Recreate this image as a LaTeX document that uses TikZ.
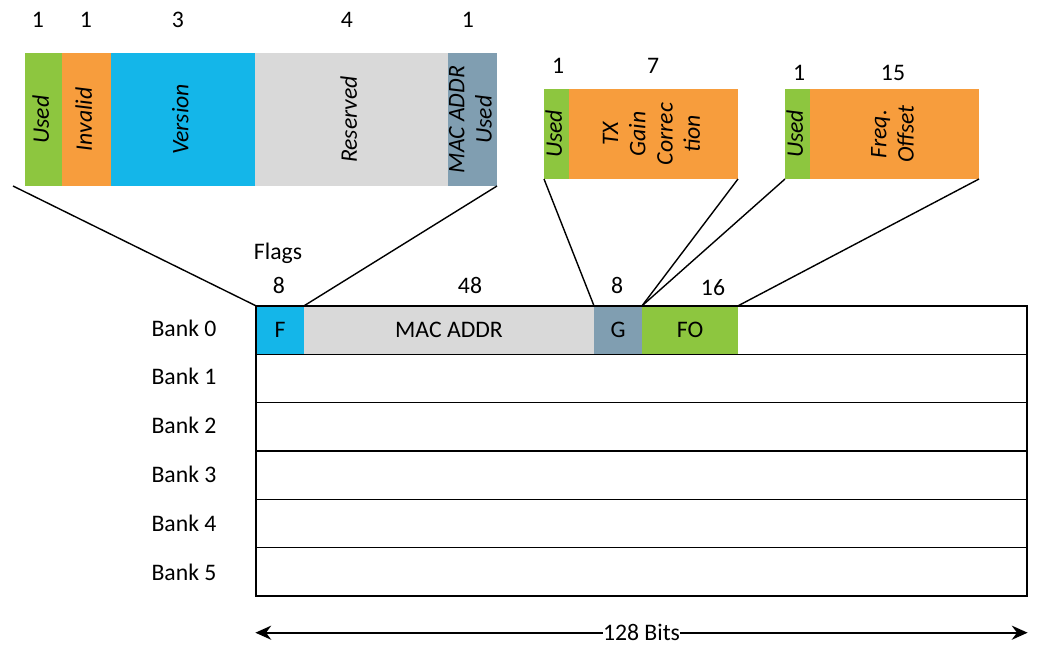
\documentclass[tikz,border=0pt]{standalone}
\usepackage{fontspec}
\setmainfont{Carlito}
\usetikzlibrary{arrows.meta, positioning, calc}
\definecolor{fldgreen}{RGB}{141,198,63}
\definecolor{fldorange}{RGB}{247,157,61}
\definecolor{fldblue}{RGB}{20,182,233}
\definecolor{fldgray}{RGB}{217,217,217}
\definecolor{fldslate}{RGB}{128,158,177}
\newcommand{\vtext}[1]{\makebox[0pt]{\rotatebox{90}{\begin{tabular}{@{}c@{}}#1\end{tabular}}}}
\tikzset{
  % Register field (parameterized by color)
  regfield/.style={
    rectangle, fill=#1, inner sep=0pt, outer sep=0pt,
    font=\fontsize{13.5}{15.5}\selectfont\itshape
  },
  flagfield/.style={regfield=#1, minimum height=2.66cm},
  subfield/.style={regfield=#1, minimum height=1.8cm},
  bankfield/.style={regfield=#1, minimum height=0.9667cm, font=\fontsize{13.5}{16}\selectfont},
  bankrow/.style={
    rectangle, draw=black, line width=0.8pt, inner sep=0pt,
    minimum width=15.42cm, minimum height=0.9667cm
  },
  bitnum/.style={font=\fontsize{13.5}{16}\selectfont, inner sep=1pt},
  banklabel/.style={font=\fontsize{13.5}{16}\selectfont},
  zoomline/.style={line width=0.8pt, black},
  bitsarrow/.style={{Stealth[length=9pt,width=8pt]}-{Stealth[length=9pt,width=8pt]}, line width=1.2pt}
}
\begin{document}
\begin{tikzpicture}[x=0.02cm, y=-0.02cm]
  \useasboundingbox (0,0) rectangle (1043,657);

  % Flags byte
  \node[flagfield=fldgreen,  minimum width=0.74cm] (fused) at (43.5,119.5)  {\vtext{Used}};
  \node[flagfield=fldorange, minimum width=0.98cm] (finv)  at (86.5,119.5)  {\vtext{Invalid}};
  \node[flagfield=fldblue,   minimum width=2.88cm] (fver)  at (183,119.5)   {\vtext{Version}};
  \node[flagfield=fldgray,   minimum width=3.86cm] (fres)  at (351.5,119.5) {\vtext{Reserved}};
  \node[flagfield=fldslate,  minimum width=0.98cm] (fmac)  at (472.5,119.5) {\vtext{MAC ADDR\\Used}};

  \node[bitnum] (nfused) at (38,20)  {1};
  \node[bitnum] (nfinv)  at (86,20)  {1};
  \node[bitnum] (nfver)  at (178,20) {3};
  \node[bitnum] (nfres)  at (347,20) {4};
  \node[bitnum] (nfmac)  at (468,20) {1};

  % Gain byte
  \node[subfield=fldgreen,  minimum width=0.5cm]  (gused) at (556.5,134) {\vtext{Used}};
  \node[subfield=fldorange, minimum width=3.38cm] (gtx)   at (653.5,134) {\vtext{TX\\Gain\\Correc\\tion}};
  \node[bitnum] (ngused) at (558,66) {1};
  \node[bitnum] (ngtx)   at (653,66) {7};

  % Frequency offset word
  \node[subfield=fldgreen,  minimum width=0.5cm]  (oused) at (797.5,134) {\vtext{Used}};
  \node[subfield=fldorange, minimum width=3.38cm] (ofreq) at (894.5,134) {\vtext{Freq.\\Offset}};
  \node[bitnum] (noused) at (799,73) {1};
  \node[bitnum] (nofreq) at (893,73) {15};

  % Bank 0 fields
  \node[bankfield=fldblue,  minimum width=0.96cm] (F)   at (280,330)   {F};
  \node[bankfield=fldgray,  minimum width=5.8cm]  (MAC) at (449,330)   {MAC ADDR};
  \node[bankfield=fldslate, minimum width=0.96cm] (G)   at (618,330)   {G};
  \node[bankfield=fldgreen, minimum width=1.92cm] (FO)  at (690,330)   {FO};

  \node[bitnum] (flags) at (278,253) {Flags};
  \node[bitnum] (nF)    at (279,285) {8};
  \node[bitnum] (nMAC)  at (470,285) {48};
  \node[bitnum] (nG)    at (617,285) {8};
  \node[bitnum] (nFO)   at (713,288) {16};

  % Banks
  \foreach \i in {0,...,5} {
    \node[bankrow] (row\i) at (641.5,{330.17+48.33*\i}) {};
    \node[banklabel] (bank\i) at (184,{328+48.8*\i}) {Bank \i};
  }

  % Zoom lines
  \coordinate (fl) at (13,186);
  \draw[zoomline] (fl) -- (F.north west);
  \draw[zoomline] (fmac.south east) -- (F.north east);
  \draw[zoomline] (gused.south west) -- (G.north west);
  \draw[zoomline] (gtx.south east) -- (G.north east);
  \draw[zoomline] (oused.south west) -- (FO.north west);
  \draw[zoomline] (ofreq.south east) -- (FO.north east);

  % Width
  \coordinate (al) at ($(row5.south west)+(0,36)$);
  \coordinate (ar) at ($(row5.south east)+(0,36)$);
  \draw[bitsarrow] (al) -- (ar) node[midway, fill=white, inner sep=0pt, font=\fontsize{13.5}{16}\selectfont] (bits) {128 Bits};
\end{tikzpicture}
\end{document}
